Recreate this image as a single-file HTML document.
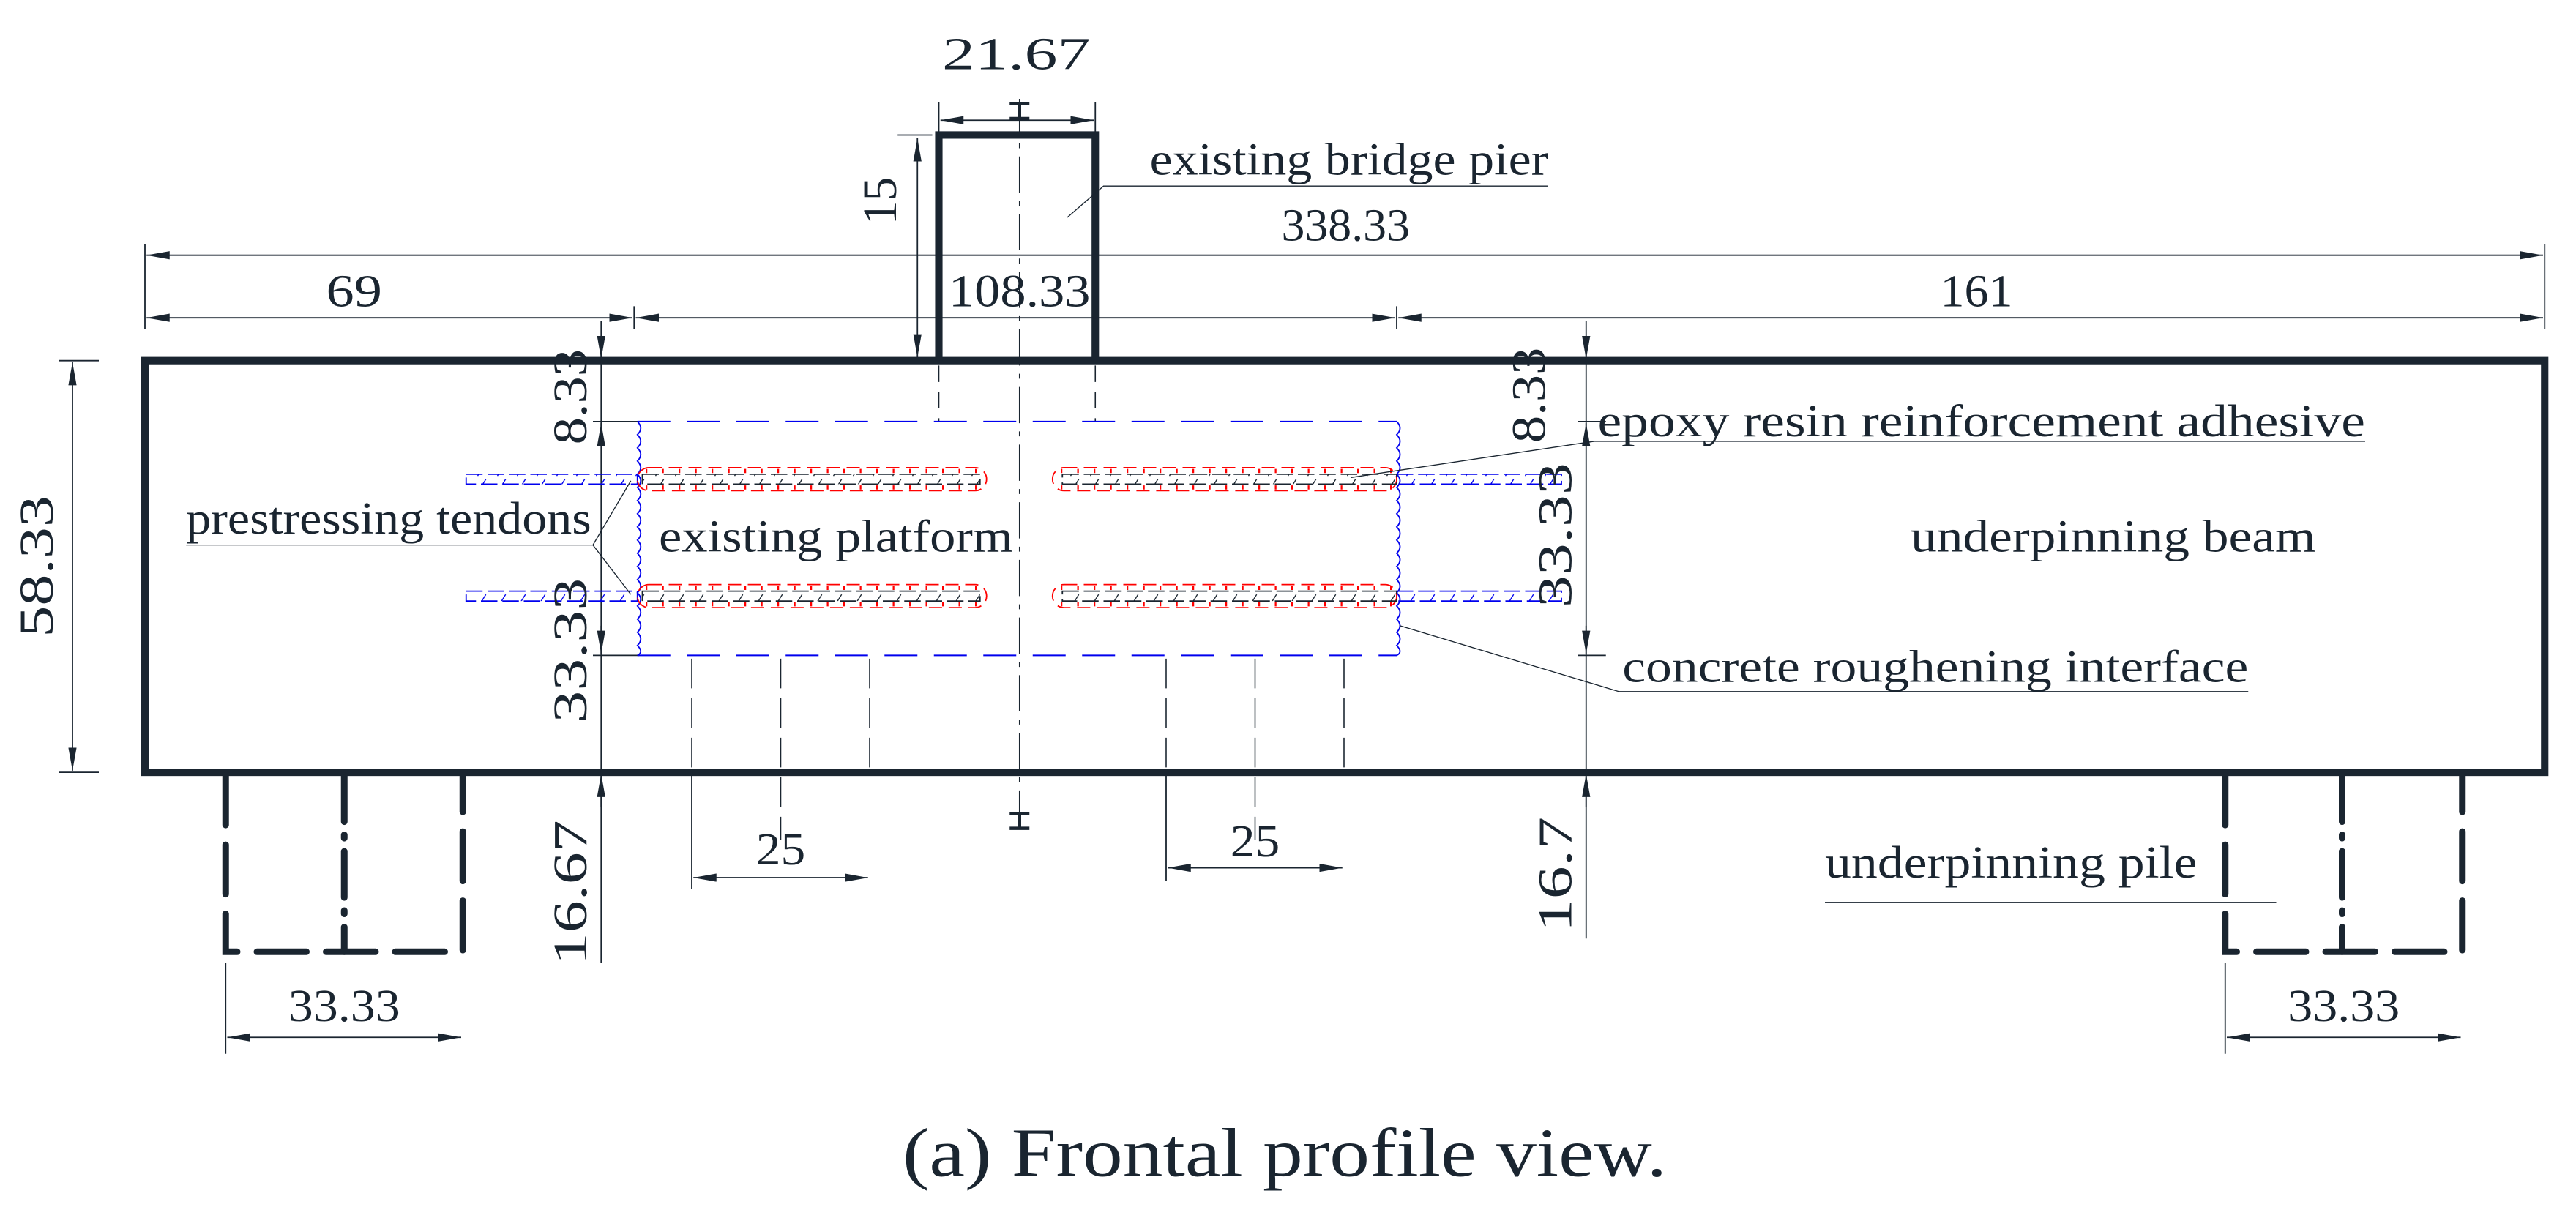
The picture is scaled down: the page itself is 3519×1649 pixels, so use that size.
<!DOCTYPE html>
<html><head><meta charset="utf-8"><style>html,body{margin:0;padding:0;background:#fff}svg{display:block}
.t{font-family:"Liberation Serif","Times New Roman",serif}</style></head>
<body>
<svg width="3519" height="1649" viewBox="0 0 1564 733" preserveAspectRatio="none" xmlns="http://www.w3.org/2000/svg">
<defs>
<marker id="ae" viewBox="0 0 14 5" refX="14" refY="2.5" markerWidth="14" markerHeight="5" markerUnits="userSpaceOnUse" orient="auto"><path d="M0,0 L14,2.5 L0,5 z" fill="#1a2530"/></marker>
<marker id="as" viewBox="0 0 14 5" refX="0" refY="2.5" markerWidth="14" markerHeight="5" markerUnits="userSpaceOnUse" orient="auto"><path d="M14,0 L0,2.5 L14,5 z" fill="#1a2530"/></marker>
<pattern id="slB" width="12" height="10" patternUnits="userSpaceOnUse"><path d="M2,9 L7,1" stroke="#1a2530" stroke-width="0.6"/></pattern>
<pattern id="slU" width="12" height="10" patternUnits="userSpaceOnUse"><path d="M2,9 L7,1" stroke="#0000ee" stroke-width="0.6"/></pattern>
</defs>
<g fill="none" stroke="#1a2530">
<rect x="88" y="219" width="1457" height="250" stroke-width="4.5"/>
<path d="M570,219 V82 H665 V219" stroke-width="4.5"/>
<path d="M619,60 V505" stroke-width="0.7" stroke-dasharray="22,5,3,5"/>
<path d="M613,63 H625 M619,63 V72 M613,72 H625" stroke-width="2"/>
<path d="M613,494 H625 M619,494 V503 M613,503 H625" stroke-width="2"/>
<path d="M570,222 V256 M665,222 V256" stroke-width="0.7" stroke-dasharray="10,6"/>
<g stroke-width="0.8">
<path d="M570,62 V80 M665,62 V80"/>
<path d="M571,73 H664" marker-start="url(#as)" marker-end="url(#ae)"/>
<path d="M545,82 H566"/>
<path d="M557,84 V217" marker-start="url(#as)" marker-end="url(#ae)"/>
<path d="M88,148 V200 M1545,148 V200 M385,186 V200 M848,186 V200"/>
<path d="M89,155 H1544" marker-start="url(#as)" marker-end="url(#ae)"/>
<path d="M89,193 H384" marker-start="url(#as)" marker-end="url(#ae)"/>
<path d="M386,193 H847" marker-start="url(#as)" marker-end="url(#ae)"/>
<path d="M849,193 H1544" marker-start="url(#as)" marker-end="url(#ae)"/>
<path d="M36,219 H60 M36,469 H60"/>
<path d="M44,220 V468" marker-start="url(#as)" marker-end="url(#ae)"/>
<path d="M365,195 V585"/>
<path d="M365,205 V218" marker-end="url(#ae)"/>
<path d="M365,270 V257" marker-end="url(#ae)"/>
<path d="M365,380 V397" marker-end="url(#ae)"/>
<path d="M365,490 V470" marker-end="url(#ae)"/>
<path d="M360,256 H388 M360,398 H388"/>
<path d="M963,195 V570"/>
<path d="M963,205 V218" marker-end="url(#ae)"/>
<path d="M963,270 V257" marker-end="url(#ae)"/>
<path d="M963,380 V397" marker-end="url(#ae)"/>
<path d="M963,490 V470" marker-end="url(#ae)"/>
<path d="M958,256 H975 M958,398 H975"/>
<path d="M420,469 V540 M708,469 V535"/>
<path d="M421,533 H527" marker-start="url(#as)" marker-end="url(#ae)"/>
<path d="M709,527 H815" marker-start="url(#as)" marker-end="url(#ae)"/>
<path d="M137,585 V640 M1351,585 V640"/>
<path d="M138,630 H280" marker-start="url(#as)" marker-end="url(#ae)"/>
<path d="M1352,630 H1494" marker-start="url(#as)" marker-end="url(#ae)"/>
</g>
<path d="M420,400 V469 M474,400 V510 M528,400 V469 M708,400 V469 M762,400 V510 M816,400 V469" stroke-width="0.7" stroke-dasharray="18,6"/>
<g stroke-width="4" stroke-linecap="round" stroke-dasharray="30,12">
<path d="M137,471 V578 H281 V471"/>
<path d="M1351,471 V578 H1495 V471"/>
</g>
<g stroke-width="4" stroke-linecap="round" stroke-dasharray="28,8,2,8">
<path d="M209,471 V578"/>
<path d="M1422,471 V578"/>
</g>
<path d="M387,256 H848 M387,398 H848" stroke="#0000ee" stroke-width="0.9" stroke-dasharray="20,10"/>
<path id="wv" d="M387,256 q4,4 0,8 q4,4 0,8 q4,4 0,8 q4,4 0,8 q4,4 0,8 q4,4 0,8 q4,4 0,8 q4,4 0,8 q4,4 0,8 q4,4 0,8 q4,4 0,8 q4,4 0,8 q4,4 0,8 q4,4 0,8 q4,4 0,8 q4,4 0,8 q4,4 0,8 q4,4 0,6" stroke="#0000ee" stroke-width="0.8"/>
<use href="#wv" x="461"/>
<g stroke-width="0.8">
<rect x="283" y="288" width="104" height="6" stroke="#0000ee" stroke-dasharray="10,3" fill="url(#slU)"/>
<rect x="283" y="359" width="104" height="6" stroke="#0000ee" stroke-dasharray="10,3" fill="url(#slU)"/>
<rect x="848" y="288" width="100" height="6" stroke="#0000ee" stroke-dasharray="10,3" fill="url(#slU)"/>
<rect x="848" y="359" width="100" height="6" stroke="#0000ee" stroke-dasharray="10,3" fill="url(#slU)"/>
<rect x="387" y="284" width="212" height="14" rx="7" stroke="#ff0000" stroke-dasharray="8,4"/>
<rect x="387" y="355" width="212" height="14" rx="7" stroke="#ff0000" stroke-dasharray="8,4"/>
<rect x="639" y="284" width="209" height="14" rx="7" stroke="#ff0000" stroke-dasharray="8,4"/>
<rect x="639" y="355" width="209" height="14" rx="7" stroke="#ff0000" stroke-dasharray="8,4"/>
<rect x="390" y="288" width="205" height="6" stroke="#1a2530" stroke-dasharray="10,3" fill="url(#slB)"/>
<rect x="390" y="359" width="205" height="6" stroke="#1a2530" stroke-dasharray="10,3" fill="url(#slB)"/>
<rect x="645" y="288" width="203" height="6" stroke="#1a2530" stroke-dasharray="10,3" fill="url(#slB)"/>
<rect x="645" y="359" width="203" height="6" stroke="#1a2530" stroke-dasharray="10,3" fill="url(#slB)"/>
<path d="M392,286 H596 M392,296 H596 M392,357 H596 M392,367 H596 M644,286 H846 M644,296 H846 M644,357 H846 M644,367 H846" stroke="#ff0000" stroke-width="2.5" stroke-dasharray="1,9"/>
</g>
<g stroke-width="0.6">
<path d="M648,132 L670,113 H940"/>
<path d="M820,290 L968,268 H1436"/>
<path d="M113,331 H360 L383,292 M360,331 L383,361"/>
<path d="M850,380 L983,420 H1365"/>
<path d="M1108,548 H1382"/>
</g>
</g>
<g class="t" fill="#1a2530" font-size="28">
<text x="572" y="42" textLength="90" lengthAdjust="spacingAndGlyphs">21.67</text>
<text x="778" y="146" textLength="78" lengthAdjust="spacingAndGlyphs">338.33</text>
<text x="198" y="186" textLength="34" lengthAdjust="spacingAndGlyphs">69</text>
<text x="576" y="186" textLength="86" lengthAdjust="spacingAndGlyphs">108.33</text>
<text x="1178" y="186" textLength="44" lengthAdjust="spacingAndGlyphs">161</text>
<text x="459" y="525" textLength="30" lengthAdjust="spacingAndGlyphs">25</text>
<text x="747" y="520" textLength="30" lengthAdjust="spacingAndGlyphs">25</text>
<text x="175" y="620" textLength="68" lengthAdjust="spacingAndGlyphs">33.33</text>
<text x="1389" y="620" textLength="68" lengthAdjust="spacingAndGlyphs">33.33</text>
<g font-size="29">
<text transform="translate(544,122) rotate(-90)" text-anchor="middle">15</text>
<text transform="translate(32,344) rotate(-90)" text-anchor="middle" textLength="86" lengthAdjust="spacingAndGlyphs">58.33</text>
<text transform="translate(356,241) rotate(-90)" text-anchor="middle" textLength="58" lengthAdjust="spacingAndGlyphs">8.33</text>
<text transform="translate(356,395) rotate(-90)" text-anchor="middle" textLength="88" lengthAdjust="spacingAndGlyphs">33.33</text>
<text transform="translate(356,542) rotate(-90)" text-anchor="middle" textLength="88" lengthAdjust="spacingAndGlyphs">16.67</text>
<text transform="translate(938,240) rotate(-90)" text-anchor="middle" textLength="58" lengthAdjust="spacingAndGlyphs">8.33</text>
<text transform="translate(954,325) rotate(-90)" text-anchor="middle" textLength="88" lengthAdjust="spacingAndGlyphs">33.33</text>
<text transform="translate(954,531) rotate(-90)" text-anchor="middle" textLength="70" lengthAdjust="spacingAndGlyphs">16.7</text>
</g>
<text x="698" y="106" textLength="242" lengthAdjust="spacingAndGlyphs">existing bridge pier</text>
<text x="970" y="265" textLength="466" lengthAdjust="spacingAndGlyphs">epoxy resin reinforcement adhesive</text>
<text x="113" y="324" textLength="246" lengthAdjust="spacingAndGlyphs">prestressing tendons</text>
<text x="400" y="335" textLength="215" lengthAdjust="spacingAndGlyphs">existing platform</text>
<text x="1160" y="335" textLength="246" lengthAdjust="spacingAndGlyphs">underpinning beam</text>
<text x="985" y="414" textLength="380" lengthAdjust="spacingAndGlyphs">concrete roughening interface</text>
<text x="1108" y="533" textLength="226" lengthAdjust="spacingAndGlyphs">underpinning pile</text>
<text x="548" y="714" font-size="42" textLength="464" lengthAdjust="spacingAndGlyphs">(a) Frontal profile view.</text>
</g>
</svg>
</body></html>
